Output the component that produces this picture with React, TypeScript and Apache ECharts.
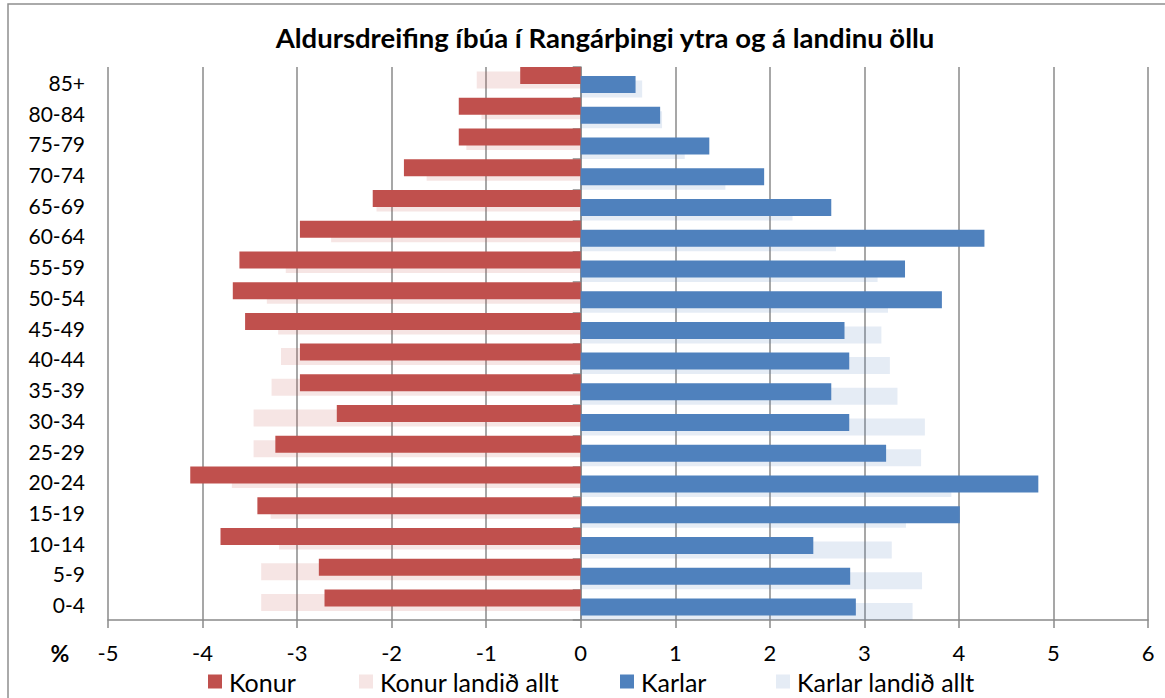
import React, { useEffect, useRef } from "react";
import * as echarts from "echarts";

const categories = ["0-4", "5-9", "10-14", "15-19", "20-24", "25-29", "30-34", "35-39", "40-44", "45-49", "50-54", "55-59", "60-64", "65-69", "70-74", "75-79", "80-84", "85+"];
const konur = [-2.71, -2.77, -3.81, -3.42, -4.13, -3.23, -2.58, -2.97, -2.97, -3.55, -3.68, -3.61, -2.97, -2.2, -1.87, -1.29, -1.29, -0.64];
const konurLandid = [-3.38, -3.38, -3.19, -3.28, -3.69, -3.46, -3.46, -3.27, -3.17, -3.2, -3.32, -3.12, -2.64, -2.16, -1.63, -1.21, -1.05, -1.1];
const karlar = [2.91, 2.85, 2.46, 4.01, 4.84, 3.23, 2.84, 2.65, 2.84, 2.79, 3.82, 3.43, 4.27, 2.65, 1.94, 1.36, 0.84, 0.58];
const karlarLandid = [3.51, 3.61, 3.29, 3.44, 3.92, 3.6, 3.64, 3.35, 3.27, 3.18, 3.25, 3.14, 2.7, 2.24, 1.53, 1.1, 0.86, 0.65];
const seriesNames = ["Konur", "Konur landið allt", "Karlar", "Karlar landið allt"];
const titleText = "Aldursdreifing íbúa í Rangárþingi ytra og á landinu öllu";
const xMin = -5;
const xMax = 6;

const FONT = "Lato, 'Open Sans', sans-serif";
const GRAY = "#8a8a8a";

export default function App() {
  const ref = useRef<HTMLDivElement>(null);
  useEffect(() => {
    const chart = echarts.init(ref.current!, null, { renderer: "svg" });
    const mkLegend = (name: string, left: number) => ({
      data: [name],
      left,
      top: 669,
      padding: 0,
      itemWidth: 14,
      itemHeight: 14,
      icon: "rect",
      selectedMode: false,
      textStyle: { fontFamily: FONT, fontSize: 25, color: "#000", padding: [0, 0, 0, 2] },
    });
    const colors = ["#C0504D", "rgba(192,80,77,0.15)", "#4F81BD", "rgba(79,129,189,0.15)"];
    const datas = [konur, konurLandid, karlar, karlarLandid];
    chart.setOption({
      animation: false,
      backgroundColor: "#ffffff",
      textStyle: { fontFamily: FONT },
      grid: { left: 108, right: 17, top: 67, bottom: 78 },
      legend: [
        mkLegend(seriesNames[0], 208),
        mkLegend(seriesNames[1], 359),
        mkLegend(seriesNames[2], 620),
        mkLegend(seriesNames[3], 776),
      ],
      graphic: [
        {
          type: "rect",
          shape: { x: 8, y: 4, width: 1200, height: 720 },
          style: { fill: "none", stroke: "#8f8f8f", lineWidth: 1.5 },
          silent: true,
        },
        {
          type: "text",
          x: 605,
          y: 37,
          style: {
            text: titleText,
            fontFamily: FONT,
            fontSize: 27.5,
            fontWeight: "bold",
            fill: "#000",
            align: "center",
            verticalAlign: "middle",
          },
        },
        {
          type: "text",
          x: 60,
          y: 653,
          style: {
            text: "%",
            fontFamily: FONT,
            fontSize: 23,
            fontWeight: "bold",
            fill: "#000",
            align: "center",
            verticalAlign: "middle",
          },
        },
      ],
      xAxis: {
        type: "value",
        min: xMin,
        max: xMax,
        interval: 1,
        axisLine: { show: true, onZero: false, lineStyle: { color: GRAY, width: 1.5 } },
        axisTick: { show: true, length: 8, lineStyle: { color: GRAY, width: 1.5 } },
        splitLine: { show: true, lineStyle: { color: GRAY, width: 1.5 } },
        axisLabel: { color: "#000", fontSize: 22, fontFamily: FONT, margin: 21 },
      },
      yAxis: [
        {
          type: "category",
          data: categories,
          position: "left",
          axisLine: { show: false, onZero: false },
          axisTick: { show: false },
          axisLabel: { color: "#000", fontSize: 21, fontFamily: FONT, margin: 23 },
        },
        {
          type: "category",
          data: categories,
          position: "left",
          axisLine: { show: true, onZero: true, lineStyle: { color: GRAY, width: 1.5 } },
          axisTick: { show: true, length: 8, lineStyle: { color: GRAY, width: 1.5 } },
          axisLabel: { show: false },
        },
      ],
      series: seriesNames.map((name, i) => ({
        name,
        type: "bar",
        data: datas[i],
        yAxisIndex: 0,
        barWidth: 17,
        barGap: "-73.5%",
        z: i % 2 === 0 ? 3 : 2,
        itemStyle: { color: colors[i] },
      })),
    });
    return () => chart.dispose();
  }, []);
  return <div ref={ref} style={{ position: "fixed", left: 0, top: 0, width: 1165, height: 698 }} />;
}
